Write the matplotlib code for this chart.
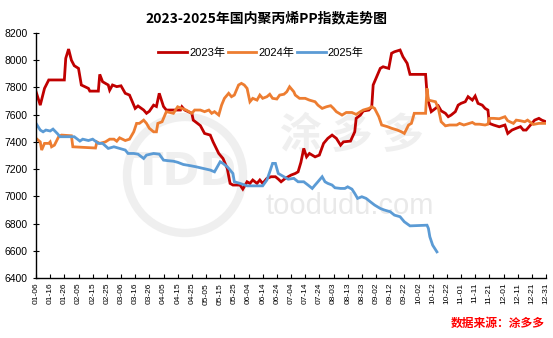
import matplotlib
matplotlib.use("Agg")
import matplotlib.pyplot as plt
from matplotlib.patches import Ellipse

# x positions are days counted from 01-06 on a month-day axis
tick_labels = ["01-06", "01-16", "01-26", "02-05", "02-15", "02-25", "03-06", "03-16",
               "03-26", "04-05", "04-15", "04-25", "05-05", "05-15", "05-25", "06-04",
               "06-14", "06-24", "07-04", "07-14", "07-24", "08-03", "08-13", "08-23",
               "09-02", "09-12", "09-22", "10-02", "10-12", "10-22", "11-01", "11-11",
               "11-21", "12-01", "12-11", "12-21", "12-31"]

days_2023 = [0, 3, 6, 9, 20, 21, 23, 25, 27, 30, 32, 37, 38, 44, 45, 47, 51, 52, 54, 57,
             60, 63, 66, 68, 70, 72, 76, 78, 80, 83, 85, 87, 90, 92, 102, 103, 105, 110,
             111, 116, 119, 123, 125, 129, 132, 135, 137, 139, 144, 146, 149, 151, 153,
             156, 158, 160, 163, 166, 169, 171, 173, 176, 180, 183, 185, 187, 189, 191,
             193, 197, 200, 203, 206, 209, 212, 215, 217, 222, 225, 226, 229, 231, 235,
             237, 238, 240, 243, 245, 249, 251, 253, 257, 259, 262, 264, 275, 276, 277,
             279, 282, 284, 286, 289, 291, 293, 296, 298, 300, 303, 305, 308, 310, 312,
             315, 317, 319, 320, 323, 327, 331, 333, 336, 339, 342, 344, 346, 349, 352,
             355, 357, 360]
vals_2023 = [7770, 7670, 7793, 7855, 7855, 8014, 8082, 8000, 7960, 7940, 7818, 7793, 7773,
             7773, 7896, 7842, 7818, 7780, 7818, 7806, 7812, 7757, 7744, 7695, 7646, 7664,
             7634, 7610, 7625, 7670, 7660, 7757, 7660, 7634, 7634, 7658, 7634, 7610, 7560,
             7520, 7462, 7450, 7400, 7315, 7278, 7205, 7095, 7083, 7083, 7053, 7107, 7095,
             7120, 7095, 7120, 7095, 7132, 7144, 7144, 7127, 7107, 7132, 7156, 7168, 7180,
             7250, 7352, 7290, 7315, 7290, 7303, 7389, 7426, 7450, 7426, 7376, 7400, 7406,
             7474, 7573, 7597, 7627, 7634, 7658, 7818, 7867, 7940, 7952, 7940, 8051, 8062,
             8075, 8026, 7977, 7896, 7896, 7757, 7695, 7622, 7646, 7664, 7628, 7610, 7585,
             7597, 7622, 7670, 7683, 7695, 7732, 7707, 7737, 7683, 7670, 7646, 7634, 7536,
             7524, 7511, 7524, 7462, 7487, 7500, 7512, 7487, 7487, 7524, 7560, 7573, 7560,
             7548]

days_2024 = [0, 3, 4, 6, 9, 10, 11, 13, 16, 18, 25, 26, 42, 43, 45, 49, 52, 55, 57, 59,
             63, 66, 69, 71, 73, 76, 78, 80, 83, 85, 86, 89, 91, 92, 97, 100, 103, 106,
             110, 112, 116, 119, 122, 124, 126, 129, 131, 133, 136, 138, 140, 143, 145,
             147, 149, 151, 153, 156, 158, 160, 163, 165, 167, 170, 172, 175, 177, 179,
             182, 183, 186, 190, 193, 197, 199, 202, 205, 208, 210, 212, 216, 219, 223,
             226, 229, 231, 235, 237, 239, 242, 244, 248, 251, 255, 258, 260, 263, 265,
             267, 275, 276, 277, 282, 284, 286, 289, 292, 297, 299, 302, 304, 308, 310,
             313, 317, 319, 320, 323, 327, 331, 333, 337, 339, 342, 345, 347, 351, 355,
             360]
vals_2024 = [7426, 7400, 7340, 7389, 7389, 7400, 7364, 7376, 7438, 7450, 7445, 7364, 7355,
             7400, 7389, 7400, 7420, 7420, 7405, 7430, 7410, 7420, 7474, 7536, 7536, 7560,
             7536, 7500, 7474, 7474, 7536, 7548, 7597, 7622, 7610, 7658, 7646, 7634, 7610,
             7634, 7634, 7622, 7634, 7610, 7622, 7597, 7670, 7720, 7757, 7732, 7744, 7818,
             7830, 7818, 7793, 7695, 7720, 7707, 7744, 7720, 7732, 7750, 7720, 7715, 7744,
             7750, 7768, 7805, 7768, 7744, 7720, 7720, 7707, 7695, 7670, 7646, 7658, 7666,
             7646, 7622, 7597, 7616, 7616, 7602, 7622, 7634, 7646, 7658, 7646, 7585, 7524,
             7512, 7500, 7487, 7474, 7462, 7524, 7536, 7610, 7610, 7793, 7707, 7695, 7646,
             7548, 7518, 7524, 7524, 7536, 7524, 7530, 7543, 7530, 7530, 7524, 7530, 7573,
             7573, 7570, 7585, 7555, 7536, 7560, 7555, 7548, 7560, 7528, 7536, 7536]

days_2025 = [0, 3, 5, 7, 10, 12, 15, 17, 27, 31, 33, 37, 40, 44, 47, 51, 55, 59, 63, 65,
             69, 72, 76, 78, 83, 87, 90, 93, 97, 100, 104, 109, 113, 118, 123, 126, 130,
             132, 135, 137, 139, 140, 144, 149, 160, 163, 165, 167, 169, 171, 175, 178,
             182, 185, 189, 192, 195, 197, 199, 202, 204, 206, 209, 211, 215, 218, 220,
             223, 225, 227, 230, 233, 236, 239, 243, 246, 250, 253, 257, 260, 264, 276,
             277, 278, 280, 283]
vals_2025 = [7536, 7487, 7474, 7487, 7480, 7494, 7462, 7438, 7438, 7406, 7420, 7410, 7420,
             7389, 7389, 7352, 7364, 7352, 7340, 7315, 7315, 7310, 7278, 7303, 7315, 7310,
             7266, 7262, 7258, 7250, 7234, 7225, 7217, 7205, 7193, 7180, 7254, 7242, 7217,
             7193, 7168, 7107, 7095, 7077, 7077, 7120, 7180, 7242, 7242, 7168, 7144, 7126,
             7132, 7107, 7107, 7083, 7058, 7083, 7107, 7144, 7107, 7095, 7083, 7063, 7058,
             7058, 7070, 7053, 7021, 6985, 6997, 6985, 6960, 6936, 6911, 6899, 6887, 6862,
             6850, 6813, 6783, 6788, 6764, 6703, 6641, 6592]

series_names = ["2023年", "2024年", "2025年"]
series_colors = ["#C00000", "#ED7D31", "#5B9BD5"]

W, H = 553, 338
fig = plt.figure(figsize=(W / 100, H / 100), dpi=100)
ax = fig.add_axes([36 / W, 60 / H, 510 / W, 245 / H])

cjk = ["Liberation Sans", "Noto Sans CJK SC"]

# faint brand watermark behind the data (round ring in figure pixels)
wm = "#efefef"
ax.add_patch(Ellipse((185 / W, 1 - 175 / H), 116 / W, 116 / H, transform=fig.transFigure,
                     fill=False, edgecolor=wm, linewidth=6, zorder=0))
ax.text(185 / W, 1 - 172 / H, "TDD", transform=fig.transFigure, ha="center", va="center",
        fontsize=32, fontweight="bold", color=wm, family="DejaVu Sans", zorder=0)
ax.text(0.62, 0.58, "涂 多 多", transform=ax.transAxes, ha="center", va="center",
        fontsize=30, fontweight="bold", color=wm, family="Noto Sans CJK SC", zorder=0)
ax.text(0.615, 0.295, "toodudu.com", transform=ax.transAxes, ha="center", va="center",
        fontsize=21, color="#e9e9e9", family="Liberation Sans", zorder=0)

for d, v, name, c in zip([days_2023, days_2024, days_2025],
                         [vals_2023, vals_2024, vals_2025],
                         series_names, series_colors):
    ax.plot(d, v, color=c, linewidth=2.0, label=name, solid_joinstyle="miter", zorder=2)

ax.set_xlim(0, 360)
ax.set_ylim(6400, 8200)
ax.set_yticks(range(6400, 8201, 200))
ax.set_xticks(range(0, 361, 10))
ax.set_xticklabels(tick_labels, rotation=90, fontsize=6.0, family="Liberation Sans")
for lbl in ax.get_yticklabels():
    lbl.set_family("Liberation Sans")
ax.tick_params(axis="y", direction="inout", length=5, width=0.8, labelsize=7.5, pad=3.5)
ax.tick_params(axis="x", direction="in", length=3, width=0.8, pad=3.5)
for s in ["top", "right"]:
    ax.spines[s].set_visible(False)
for s in ["left", "bottom"]:
    ax.spines[s].set_linewidth(1.0)
    ax.spines[s].set_color("black")

fig.text(266 / W, 1 - 18 / H, "2023-2025年国内聚丙烯PP指数走势图", ha="center", va="center",
         fontsize=10, fontweight="bold", family=["Noto Sans CJK SC"])

fig.legend(loc="center", bbox_to_anchor=(261 / W, 1 - 53 / H), ncol=3, frameon=False,
           prop={"family": cjk, "size": 8}, handlelength=2.6, handletextpad=0.2,
           columnspacing=0.2, borderaxespad=0)

fig.text(545 / W, 1 - 323 / H, "数据来源：涂多多", ha="right", va="center",
         fontsize=8.5, fontweight="bold", color="#FF0000", family=["Noto Sans CJK SC"])

fig.savefig("out.png", dpi=100)
